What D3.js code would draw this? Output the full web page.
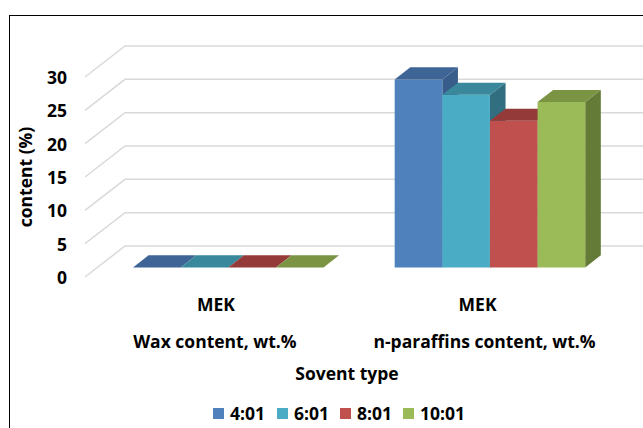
<!DOCTYPE html>
<html>
<head>
<meta charset="utf-8">
<script src="https://cdn.jsdelivr.net/npm/d3@7"></script>
<style>
  html, body { margin: 0; padding: 0; background: #fff; }
  svg text { font-family: "Open Sans", sans-serif; font-weight: bold; fill: #000; font-variant-ligatures: none; }
</style>
</head>
<body>
<svg id="chart" width="643" height="428"></svg>
<script>
// Category axis: sub-label (solvent) and group label
const categories = ["Wax content, wt.%", "n-paraffins content, wt.%"];
const solventLabels = ["MEK", "MEK"];
// Solvent-to-feed ratios
const series = ["4:01", "6:01", "8:01", "10:01"];
// Values per series, one entry per category
const values = {
  "4:01":  [0, 28.2],
  "6:01":  [0, 25.9],
  "8:01":  [0, 22.0],
  "10:01": [0, 24.8]
};
const yTicks = [0, 5, 10, 15, 20, 25, 30];

const colors = {
  "4:01":  { front: "#4F81BD", top: "#3E6596", side: "#385D8A" },
  "6:01":  { front: "#4BACC6", top: "#3A889B", side: "#316F80" },
  "8:01":  { front: "#C0504D", top: "#943B39", side: "#7E302E" },
  "10:01": { front: "#9BBB59", top: "#7A9443", side: "#647A37" }
};

const FS = 17.5;
const svg = d3.select("#chart");

// Outer chart frame
svg.append("rect").attr("x", 9.5).attr("y", 15.5).attr("width", 660).attr("height", 440)
  .attr("fill", "none").attr("stroke", "#000").attr("stroke-width", 1);

// Front-plane scales
const y = d3.scaleLinear().domain([0, 30]).range([277, 77]);
const x = d3.scaleBand().domain(categories).range([85, 608.4]);
const gapFrac = 0.136;
const xs = d3.scaleBand().domain(series)
  .range([x.bandwidth() * gapFrac, x.bandwidth() * (1 - gapFrac)]);

// Depth projection: t in [0,1] from front to back wall
const DX = 40, DY = -31;
const P = (px, py, t) => [px + DX * t, py + DY * t];

// Side wall and back wall gridlines
const grid = svg.append("g").attr("stroke", "#D9D9D9").attr("stroke-width", 1.5).attr("fill", "none");
yTicks.forEach(v => {
  const a = P(x.range()[0], y(v), 0);
  const b = P(x.range()[0], y(v), 1);
  const c = P(x.range()[1] + 60, y(v), 1);
  grid.append("path").attr("d", d3.line()([a, b, c]));
});

// Value axis labels
const yAxis = svg.append("g").attr("transform", "translate(67,0)")
  .call(d3.axisLeft(y).tickValues(yTicks).tickSize(0).tickPadding(0));
yAxis.select(".domain").remove();
yAxis.selectAll("text").attr("font-size", FS).attr("dy", "0.38em")
  .style("font-family", "'Open Sans', sans-serif").style("font-weight", "bold");

// 3D bars
const t0 = 0.31, t1 = 0.70;
const bars = svg.append("g");
categories.forEach((cat, ci) => {
  series.forEach(s => {
    const v = values[s][ci];
    const x0 = x(cat) + xs(s), x1 = x0 + xs.bandwidth();
    const yb = y(0), yt = y(v);
    const c = colors[s];
    const fl = P(x0, yb, t0), fr = P(x1, yb, t0);
    const tl = P(x0, yt, t0), tr = P(x1, yt, t0);
    const btl = P(x0, yt, t1), btr = P(x1, yt, t1), bbr = P(x1, yb, t1);
    // side face
    bars.append("path").attr("d", d3.line()([fr, tr, btr, bbr]) + "Z").attr("fill", c.side);
    // front face
    if (v > 0) bars.append("path").attr("d", d3.line()([fl, fr, tr, tl]) + "Z").attr("fill", c.front);
    // top face
    bars.append("path").attr("d", d3.line()([tl, tr, btr, btl]) + "Z").attr("fill", c.top);
  });
});

// Category labels
const cx = d => x(d) + x.bandwidth() / 2;
svg.append("g").selectAll("text").data(categories).join("text")
  .attr("x", d => cx(d)).attr("y", 311).attr("text-anchor", "middle").attr("font-size", FS)
  .text((d, i) => solventLabels[i]);
svg.append("g").selectAll("text").data(categories).join("text")
  .attr("x", (d, i) => cx(d) + (i === 1 ? 7 : -1)).attr("y", 348).attr("text-anchor", "middle").attr("font-size", FS)
  .text(d => d);

// Axis titles
svg.append("text").attr("x", 347).attr("y", 380).attr("text-anchor", "middle")
  .attr("font-size", FS).text("Sovent type");
svg.append("text").attr("transform", "translate(32,177) rotate(-90)")
  .attr("text-anchor", "middle").attr("font-size", FS).text("content (%)");

// Legend
const legendX = [213, 277, 340, 403];
const legend = svg.append("g").selectAll("g").data(series).join("g")
  .attr("transform", (d, i) => `translate(${legendX[i]},408)`);
legend.append("rect").attr("width", 11).attr("height", 11).attr("fill", d => colors[d].front);
legend.append("text").attr("x", 17).attr("y", 12).attr("font-size", FS).text(d => d);
</script>
</body>
</html>
